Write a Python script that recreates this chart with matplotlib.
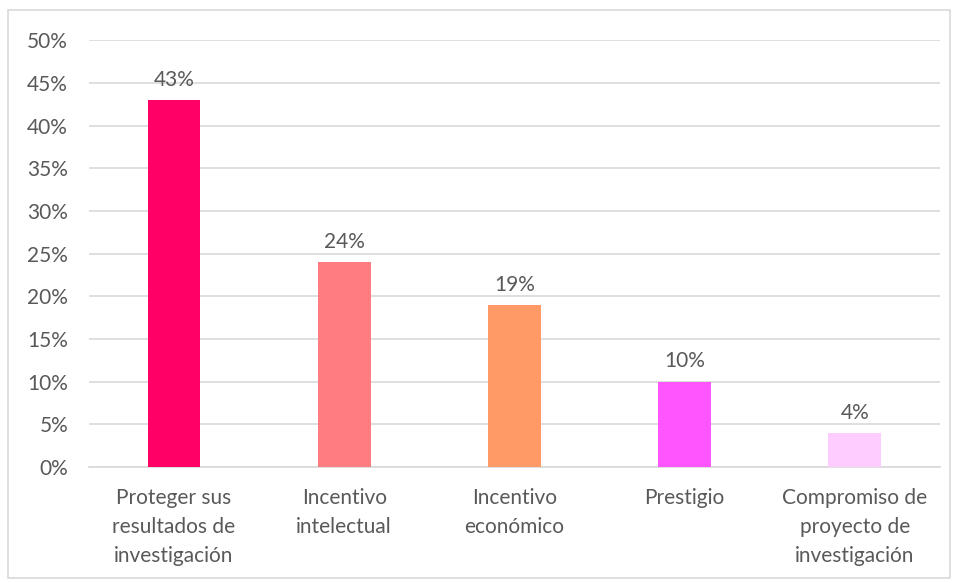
import matplotlib
matplotlib.use("Agg")
import matplotlib.pyplot as plt
from matplotlib.patches import Rectangle
from matplotlib.ticker import FuncFormatter, MultipleLocator

categories = [
    "Proteger sus\nresultados de\ninvestigación",
    "Incentivo\nintelectual",
    "Incentivo\neconómico",
    "Prestigio",
    "Compromiso de\nproyecto de\ninvestigación",
]
values = [43, 24, 19, 10, 4]
colors = ["#FF0066", "#FF7C80", "#FF9966", "#FF55FF", "#FFCCFF"]

text_color = "#595959"
fs = 15
plt.rcParams["font.family"] = ["Lato", "DejaVu Sans"]

fig = plt.figure(figsize=(9.56, 5.83), dpi=100)
fig.patch.set_facecolor("white")
fig.add_artist(Rectangle((8 / 956, 5 / 583), 942 / 956, 568 / 583,
                         transform=fig.transFigure, fill=False,
                         edgecolor="#D9D9D9", linewidth=1.2))

ax = fig.add_axes([0.093, 0.199, 0.890, 0.732])
x = range(len(categories))
ax.bar(x, values, width=0.31, color=colors, zorder=3)

for xi, v in zip(x, values):
    ax.text(xi, v + 1.2, f"{v}%", ha="center", va="bottom",
            fontsize=fs, color=text_color)

ax.set_ylim(0, 50)
ax.set_xlim(-0.5, len(categories) - 0.5)
ax.yaxis.set_major_locator(MultipleLocator(5))
ax.yaxis.set_major_formatter(FuncFormatter(lambda v, _: f"{v:.0f}%"))
ax.grid(axis="y", color="#D9D9D9", linewidth=1.2, zorder=0)
ax.set_axisbelow(True)

for side in ["top", "right", "left"]:
    ax.spines[side].set_visible(False)
ax.spines["bottom"].set_color("#D9D9D9")
ax.spines["bottom"].set_linewidth(1.2)

ax.set_xticks(list(x))
ax.set_xticklabels(categories, fontsize=fs, color=text_color, linespacing=1.58)
ax.tick_params(axis="x", length=0, pad=15)
ax.tick_params(axis="y", length=0, pad=15, labelsize=fs, labelcolor=text_color)

fig.savefig("out.png", dpi=100, facecolor="white")
